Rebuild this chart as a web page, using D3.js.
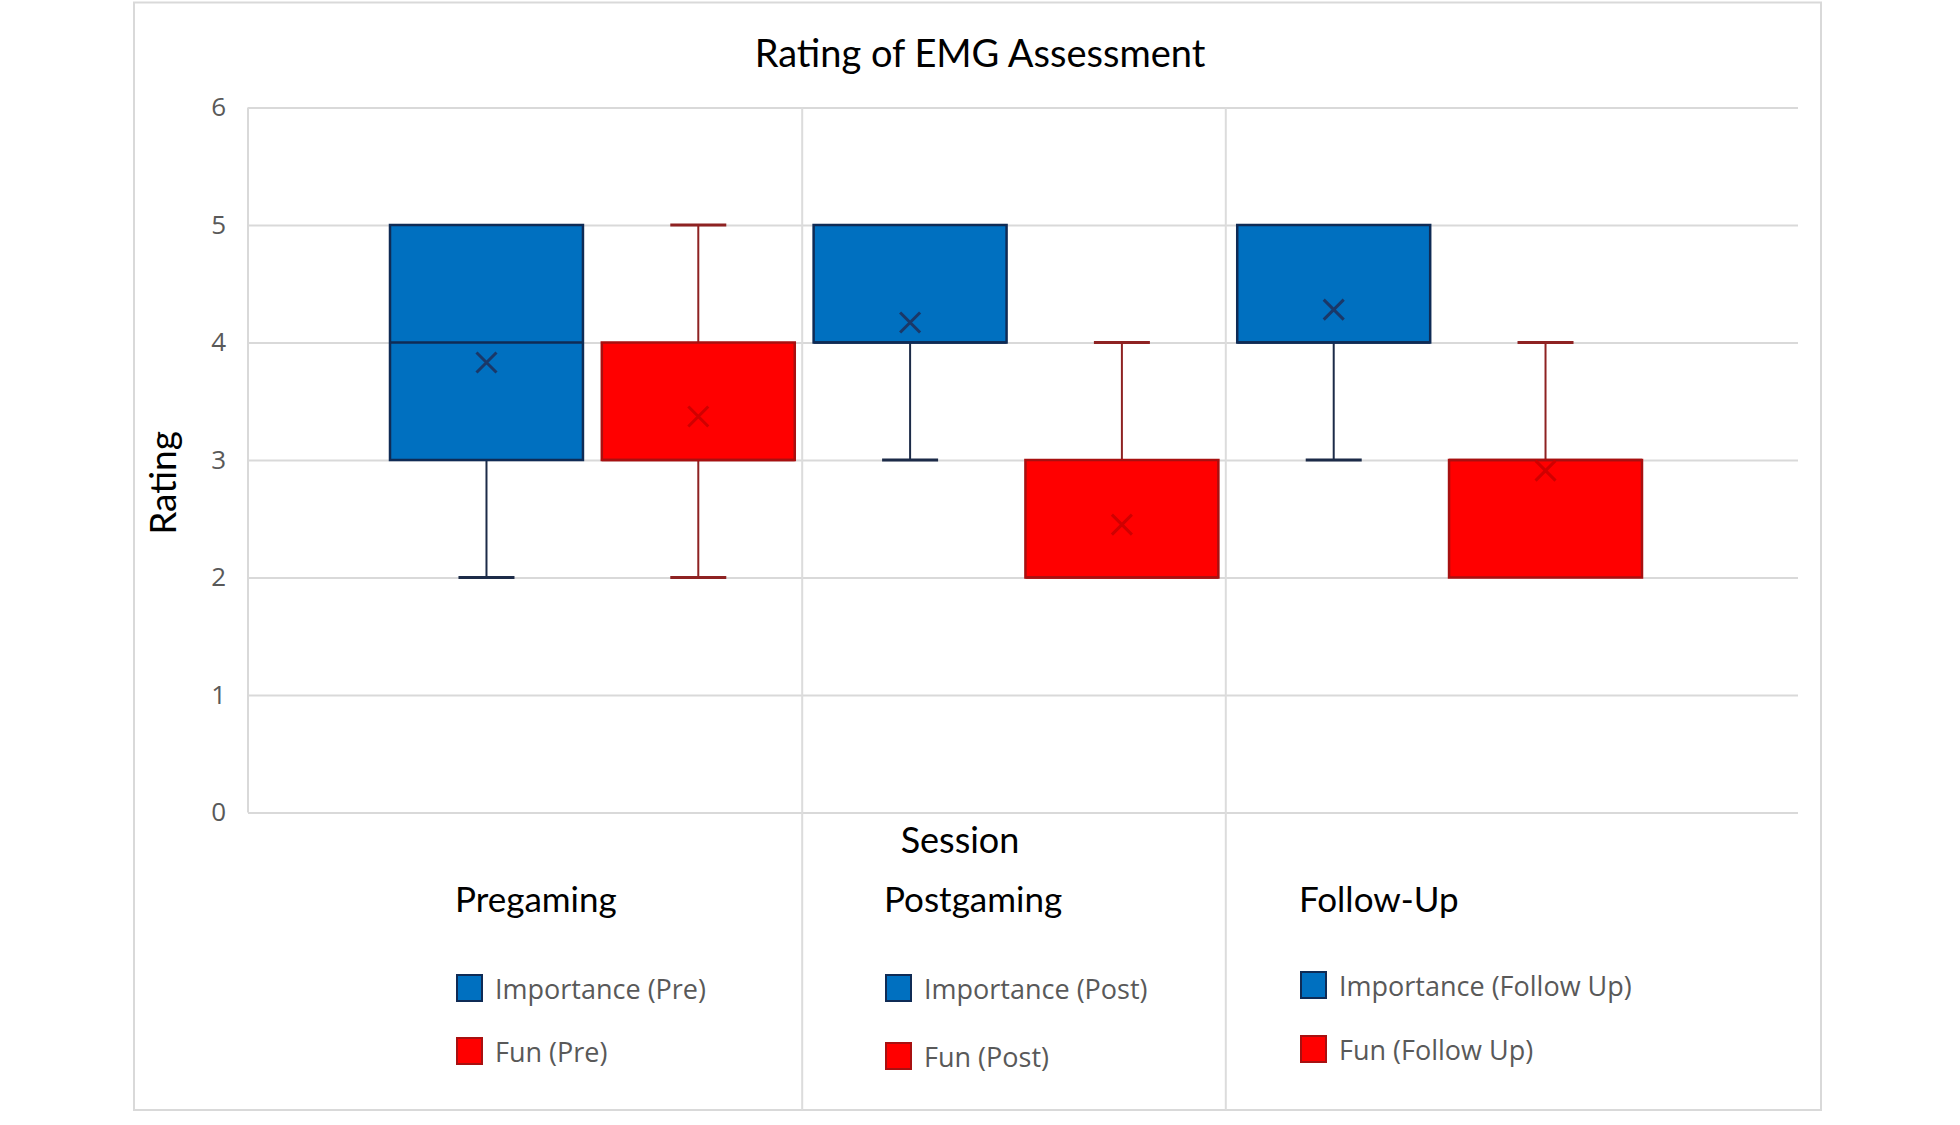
<!DOCTYPE html>
<html>
<head>
<meta charset="utf-8">
<script src="https://cdn.jsdelivr.net/npm/d3@7"></script>
<style>
  body { margin: 0; background: #fff; }
  svg { display: block; }
</style>
</head>
<body>
<svg></svg>
<script>
const width = 1960;
const height = 1125;

// data
const sessions = ['Pregaming', 'Postgaming', 'Follow-Up'];
const series = ['Importance (Pre)', 'Fun (Pre)', 'Importance (Post)', 'Fun (Post)', 'Importance (Follow Up)', 'Fun (Follow Up)'];
const kinds = ['importance', 'fun', 'importance', 'fun', 'importance', 'fun'];
const minVals = [2, 2, 3, 2, 3, 2];
const q1Vals = [3, 3, 4, 2, 4, 2];
const medianVals = [4, 3, 4, 2, 4, 3];
const q3Vals = [5, 4, 5, 3, 5, 3];
const maxVals = [5, 5, 5, 4, 5, 4];
const meanVals = [3.83, 3.37, 4.17, 2.45, 4.28, 2.91];
const yTicks = [0, 1, 2, 3, 4, 5, 6];

const colors = {
    importance: { fill: '#0070c0', stroke: '#0f2b55', whisker: '#1c2b48', mean: '#1a3868' },
    fun: { fill: '#ff0000', stroke: '#a81010', whisker: '#8e2222', mean: '#d00000' }
};

const plot = { left: 248, right: 1798, top: 107.5, bottom: 812.5 };

const svg = d3.select('svg')
    .attr('width', width)
    .attr('height', height);

// chart border
svg.append('rect')
    .attr('x', 134).attr('y', 2.5)
    .attr('width', 1821 - 134).attr('height', 1110 - 2.5)
    .attr('fill', '#fff')
    .attr('stroke', '#d9d9d9')
    .attr('stroke-width', 2);

const y = d3.scaleLinear().domain([0, 6]).range([plot.bottom, plot.top]);

const x = d3.scaleBand()
    .domain(series)
    .range([390, 1642])
    .paddingInner(0.089)
    .paddingOuter(0);

// y axis with gridlines
const yAxis = svg.append('g')
    .attr('transform', `translate(${plot.left},0)`)
    .call(d3.axisLeft(y)
        .tickValues(yTicks)
        .tickFormat(d3.format('d'))
        .tickSize(-(plot.right - plot.left))
        .tickPadding(22));

yAxis.select('.domain').remove();
yAxis.selectAll('.tick line')
    .attr('stroke', '#d9d9d9')
    .attr('stroke-width', 2);
yAxis.selectAll('.tick text')
    .attr('fill', '#595959')
    .style('font-family', '"Open Sans", sans-serif')
    .style('font-size', '26px');

// left axis line
svg.append('line')
    .attr('x1', plot.left).attr('x2', plot.left)
    .attr('y1', plot.top).attr('y2', plot.bottom)
    .attr('stroke', '#d9d9d9').attr('stroke-width', 2);

// session dividers
const step = x.step();
const gap = step * x.paddingInner();
[2, 4].forEach(i => {
    const xx = x(series[i]) - gap / 2 - 2;
    svg.append('line')
        .attr('x1', xx).attr('x2', xx)
        .attr('y1', plot.top).attr('y2', 1110)
        .attr('stroke', '#dcdcdc').attr('stroke-width', 2);
});

// boxes
const boxData = series.map((s, i) => ({
    name: s, kind: kinds[i],
    min: minVals[i], q1: q1Vals[i], median: medianVals[i],
    q3: q3Vals[i], max: maxVals[i], mean: meanVals[i]
}));

const bw = x.bandwidth();
const capW = 56;

const box = svg.selectAll('.box')
    .data(boxData)
    .enter().append('g')
    .attr('class', 'box')
    .attr('transform', d => `translate(${x(d.name)},0)`);

// whiskers
box.each(function (d) {
    const g = d3.select(this);
    const c = colors[d.kind];
    const cx = bw / 2;
    const segs = [];
    if (d.min < d.q1) segs.push([d.min, d.q1]);
    if (d.max > d.q3) segs.push([d.q3, d.max]);
    segs.forEach(([a, b]) => {
        g.append('line')
            .attr('x1', cx).attr('x2', cx)
            .attr('y1', y(a)).attr('y2', y(b))
            .attr('stroke', c.whisker).attr('stroke-width', 2);
    });
    [d.min, d.max].forEach(v => {
        if (v === d.q1 || v === d.q3) return;
        g.append('line')
            .attr('x1', cx - capW / 2).attr('x2', cx + capW / 2)
            .attr('y1', y(v)).attr('y2', y(v))
            .attr('stroke', c.whisker).attr('stroke-width', 3);
    });
});

box.append('rect')
    .attr('x', 0)
    .attr('y', d => y(d.q3))
    .attr('width', bw)
    .attr('height', d => y(d.q1) - y(d.q3))
    .attr('fill', d => colors[d.kind].fill)
    .attr('stroke', d => colors[d.kind].stroke)
    .attr('stroke-width', 2.5);

box.append('line')
    .attr('x1', 0).attr('x2', bw)
    .attr('y1', d => y(d.median)).attr('y2', d => y(d.median))
    .attr('stroke', d => colors[d.kind].stroke)
    .attr('stroke-width', 2.5);

// mean markers
const m = 10;
box.append('path')
    .attr('d', d => {
        const cx = bw / 2, cy = y(d.mean);
        return `M${cx - m},${cy - m}L${cx + m},${cy + m}M${cx - m},${cy + m}L${cx + m},${cy - m}`;
    })
    .attr('fill', 'none')
    .attr('stroke', d => colors[d.kind].mean)
    .attr('stroke-width', 3);

// titles
svg.append('text')
    .attr('x', 980).attr('y', 67)
    .attr('text-anchor', 'middle')
    .style('font-family', 'Lato, sans-serif')
    .style('font-size', '38px')
    .attr('fill', '#000')
    .text('Rating of EMG Assessment');

svg.append('text')
    .attr('transform', 'translate(176,483) rotate(-90)')
    .attr('text-anchor', 'middle')
    .style('font-family', 'Lato, sans-serif')
    .style('font-size', '37px')
    .attr('fill', '#000')
    .text('Rating');

svg.append('text')
    .attr('x', 960).attr('y', 853)
    .attr('text-anchor', 'middle')
    .style('font-family', 'Lato, sans-serif')
    .style('font-size', '36px')
    .attr('fill', '#000')
    .text('Session');

// session labels and legends
const groupX = [455, 884, 1299];
const legendY = [[975, 1038], [975, 1043], [972, 1036]];

sessions.forEach((s, gi) => {
    const gx = groupX[gi];
    svg.append('text')
        .attr('x', gx).attr('y', 912)
        .style('font-family', 'Lato, sans-serif')
        .style('font-size', '35px')
        .attr('fill', '#000')
        .text(s);

    [0, 1].forEach(k => {
        const d = boxData[gi * 2 + k];
        const c = colors[d.kind];
        const ly = legendY[gi][k];
        svg.append('rect')
            .attr('x', gx + 2).attr('y', ly)
            .attr('width', 25).attr('height', 26)
            .attr('fill', c.fill)
            .attr('stroke', c.stroke)
            .attr('stroke-width', 2);
        svg.append('text')
            .attr('x', gx + 40).attr('y', ly + 24)
            .style('font-family', '"Open Sans", sans-serif')
            .style('font-size', '27px')
            .attr('fill', '#595959')
            .text(d.name);
    });
});
</script>
</body>
</html>
